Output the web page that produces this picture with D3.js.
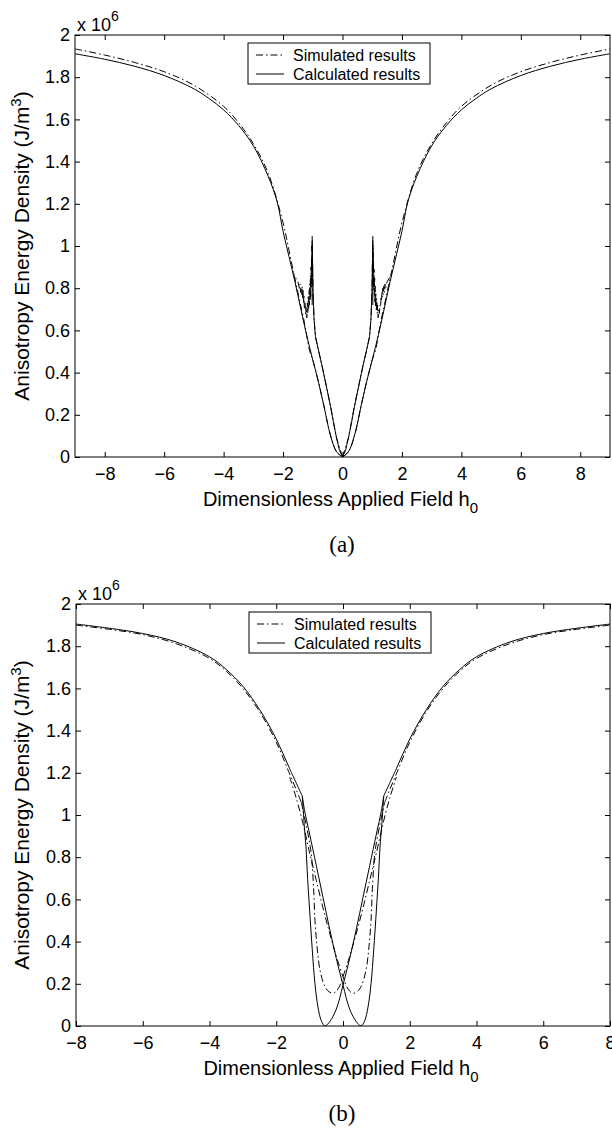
<!DOCTYPE html>
<html><head><meta charset="utf-8">
<script src="https://cdn.jsdelivr.net/npm/d3@7"></script>
<style>html,body{margin:0;padding:0;background:#fff;} svg{display:block;}</style>
</head><body>
<svg id="chart" width="612" height="1131"></svg>
<script>
// ---------- DATA (energy values in units of 10^6 J/m^3) ----------
const xTicksA = [-8, -6, -4, -2, 0, 2, 4, 6, 8];
const xTicksB = [-8, -6, -4, -2, 0, 2, 4, 6, 8];
const yTicks = [0, 0.2, 0.4, 0.6, 0.8, 1, 1.2, 1.4, 1.6, 1.8, 2];
const legendLabels = ["Simulated results", "Calculated results"];

// Panel (a) - calculated, outer (stable) branches
const aCalcOuterLx = [-9, -8, -7, -6, -5, -4.5, -4, -3.5, -3, -2.5, -2.2, -2, -1.8, -1.6, -1.4, -1.21, -1, -0.8, -0.63, -0.4, -0.2, 0];
const aCalcOuterLy = [1.911, 1.885, 1.852, 1.808, 1.745, 1.70, 1.645, 1.572, 1.475, 1.33, 1.21, 1.07, 0.95, 0.83, 0.70, 0.58, 0.46, 0.35, 0.245, 0.10, 0.025, 0];
const aCalcOuterRx = [0, 0.2, 0.4, 0.63, 0.8, 1, 1.21, 1.4, 1.6, 1.8, 2, 2.2, 2.5, 3, 3.5, 4, 4.5, 5, 6, 7, 8, 9];
const aCalcOuterRy = [0, 0.025, 0.10, 0.245, 0.35, 0.46, 0.58, 0.70, 0.83, 0.95, 1.07, 1.21, 1.33, 1.475, 1.572, 1.645, 1.70, 1.745, 1.808, 1.852, 1.885, 1.911];
// Panel (a) - calculated, metastable branches up to switching (with jump)
const aCalcSteepLx = [0, -0.1, -0.2, -0.3, -0.4, -0.55, -0.7, -0.8, -0.91, -0.96, -0.99, -1.02, -1.02];
const aCalcSteepLy = [0, 0.03, 0.09, 0.16, 0.238, 0.34, 0.44, 0.50, 0.57, 0.66, 0.78, 1.02, 0.72];
const aCalcSteepRx = [0, 0.1, 0.2, 0.3, 0.4, 0.55, 0.7, 0.8, 0.91, 0.96, 0.99, 1.02, 1.02];
const aCalcSteepRy = [0, 0.03, 0.09, 0.16, 0.238, 0.34, 0.44, 0.50, 0.57, 0.66, 0.78, 1.02, 0.72];

// Panel (a) - simulated, outer branches
const aSimOuterLx = [-9, -8, -7, -6, -5, -4, -3.5, -3, -2.5, -2, -1.8, -1.64, -1.5, -1.41, -1.3, -1.21, -1.1, -1, -0.8, -0.63, -0.4, -0.2, 0];
const aSimOuterLy = [1.934, 1.905, 1.870, 1.826, 1.762, 1.662, 1.585, 1.485, 1.345, 1.11, 0.98, 0.87, 0.78, 0.72, 0.65, 0.58, 0.50, 0.46, 0.35, 0.245, 0.10, 0.025, 0];
const aSimOuterRx = [0, 0.2, 0.4, 0.63, 0.8, 1, 1.1, 1.21, 1.3, 1.41, 1.5, 1.64, 1.8, 2, 2.5, 3, 3.5, 4, 5, 6, 7, 8, 9];
const aSimOuterRy = [0, 0.025, 0.10, 0.245, 0.35, 0.46, 0.50, 0.58, 0.65, 0.72, 0.78, 0.87, 0.98, 1.11, 1.345, 1.485, 1.585, 1.662, 1.762, 1.826, 1.870, 1.905, 1.934];
// Panel (a) - simulated, metastable branch, switching spike and noisy relaxation
const aSimSteepLx = [0, -0.2, -0.4, -0.55, -0.7, -0.8, -0.91, -0.96, -0.99, -1.01, -1.02, -1.025, -1.03, -1.035, -1.04, -1.05, -1.06, -1.07, -1.08, -1.09, -1.1, -1.11, -1.12, -1.14, -1.15, -1.17, -1.18, -1.2, -1.22, -1.24, -1.26, -1.28, -1.3, -1.31, -1.33, -1.34, -1.36, -1.37, -1.39, -1.41, -1.43, -1.45, -1.5, -1.58, -1.64];
const aSimSteepLy = [0, 0.09, 0.24, 0.34, 0.44, 0.50, 0.57, 0.66, 0.78, 0.95, 1.045, 0.86, 1.0, 0.82, 0.95, 0.80, 0.90, 0.76, 0.86, 0.74, 0.82, 0.72, 0.79, 0.70, 0.76, 0.68, 0.73, 0.66, 0.71, 0.67, 0.73, 0.70, 0.77, 0.73, 0.79, 0.75, 0.81, 0.77, 0.80, 0.78, 0.82, 0.80, 0.83, 0.85, 0.87];
const aSimSteepRx = [0, 0.2, 0.4, 0.55, 0.7, 0.8, 0.91, 0.96, 0.99, 1.01, 1.02, 1.025, 1.03, 1.035, 1.04, 1.05, 1.06, 1.07, 1.08, 1.09, 1.1, 1.11, 1.12, 1.14, 1.15, 1.17, 1.18, 1.2, 1.22, 1.24, 1.26, 1.28, 1.3, 1.31, 1.33, 1.34, 1.36, 1.37, 1.39, 1.41, 1.43, 1.45, 1.5, 1.58, 1.64];
const aSimSteepRy = [0, 0.09, 0.24, 0.34, 0.44, 0.50, 0.57, 0.66, 0.78, 0.95, 1.045, 0.87, 0.99, 0.83, 0.94, 0.79, 0.89, 0.77, 0.85, 0.73, 0.81, 0.71, 0.78, 0.69, 0.75, 0.68, 0.72, 0.66, 0.70, 0.68, 0.72, 0.71, 0.76, 0.74, 0.78, 0.76, 0.80, 0.77, 0.81, 0.78, 0.82, 0.80, 0.83, 0.85, 0.87];

// Panel (b) - calculated
const bCalcOuterLx = [-8, -7, -6, -5, -4, -3.5, -3, -2.5, -2, -1.6, -1.22];
const bCalcOuterLy = [1.905, 1.885, 1.86, 1.82, 1.75, 1.69, 1.61, 1.50, 1.36, 1.22, 1.09];
const bCalcOuterRx = [1.22, 1.6, 2, 2.5, 3, 3.5, 4, 5, 6, 7, 8];
const bCalcOuterRy = [1.09, 1.22, 1.36, 1.50, 1.61, 1.69, 1.75, 1.82, 1.86, 1.885, 1.905];
const bCalcU1x = [-1.22, -1.16, -1.11, -1.06, -1.0, -0.92, -0.84, -0.75, -0.65, -0.54, -0.4, -0.2, 0, 0.2, 0.4, 0.6, 0.8, 1.0, 1.15, 1.22];
const bCalcU1y = [1.09, 0.95, 0.85, 0.70, 0.55, 0.36, 0.20, 0.09, 0.025, 0, 0.02, 0.08, 0.194, 0.32, 0.46, 0.61, 0.76, 0.91, 1.02, 1.09];
const bCalcU2x = [-1.22, -1.15, -1.0, -0.8, -0.6, -0.4, -0.2, 0, 0.2, 0.4, 0.54, 0.65, 0.75, 0.84, 0.92, 1.0, 1.06, 1.11, 1.16, 1.22];
const bCalcU2y = [1.09, 1.02, 0.91, 0.76, 0.61, 0.46, 0.32, 0.194, 0.08, 0.02, 0, 0.025, 0.09, 0.20, 0.36, 0.55, 0.70, 0.85, 0.95, 1.09];

// Panel (b) - simulated
const bSimOuterLx = [-8, -7, -6, -5, -4, -3.5, -3, -2.5, -2, -1.6, -1.4, -1.25];
const bSimOuterLy = [1.90, 1.88, 1.855, 1.812, 1.742, 1.682, 1.60, 1.49, 1.345, 1.195, 1.12, 1.06];
const bSimOuterRx = [1.25, 1.4, 1.6, 2, 2.5, 3, 3.5, 4, 5, 6, 7, 8];
const bSimOuterRy = [1.06, 1.12, 1.195, 1.345, 1.49, 1.60, 1.682, 1.742, 1.812, 1.855, 1.88, 1.90];
const bSimU1x = [-1.25, -1.1, -0.98, -0.94, -0.88, -0.84, -0.78, -0.69, -0.55, -0.42, -0.29, -0.2, -0.1, 0, 0.2, 0.4, 0.6, 0.8, 1.0, 1.2, 1.4, 1.6];
const bSimU1y = [1.06, 0.95, 0.85, 0.80, 0.65, 0.50, 0.38, 0.265, 0.19, 0.162, 0.155, 0.165, 0.19, 0.234, 0.33, 0.44, 0.56, 0.69, 0.82, 0.96, 1.08, 1.18];
const bSimU2x = [-1.6, -1.4, -1.2, -1.0, -0.8, -0.6, -0.4, -0.2, 0, 0.1, 0.2, 0.29, 0.42, 0.55, 0.69, 0.78, 0.84, 0.88, 0.94, 0.98, 1.1, 1.25];
const bSimU2y = [1.18, 1.08, 0.96, 0.82, 0.69, 0.56, 0.44, 0.33, 0.234, 0.19, 0.165, 0.155, 0.162, 0.19, 0.265, 0.38, 0.50, 0.65, 0.80, 0.85, 0.95, 1.06];

// ---------- DRAWING ----------
const svg = d3.select("#chart");
const FONT = "'Liberation Sans', Arial, Helvetica, sans-serif";
const SIM_DASH = "7,3,1.5,3";

const panels = [
  { top: 35, bottom: 457, left: 75, right: 610, xDomain: [-9, 9], xTicks: xTicksA, tag: "(a)",
    series: [
      [aCalcOuterLx, aCalcOuterLy, "calc", "smooth"], [aCalcOuterRx, aCalcOuterRy, "calc", "smooth"],
      [aCalcSteepLx, aCalcSteepLy, "calc", "linear"], [aCalcSteepRx, aCalcSteepRy, "calc", "linear"],
      [aSimOuterLx, aSimOuterLy, "sim", "smooth"], [aSimOuterRx, aSimOuterRy, "sim", "smooth"],
      [aSimSteepLx, aSimSteepLy, "sim", "linear"], [aSimSteepRx, aSimSteepRy, "sim", "linear"]
    ] },
  { top: 604, bottom: 1026, left: 76, right: 610, xDomain: [-8, 8], xTicks: xTicksB, tag: "(b)",
    series: [
      [bCalcOuterLx, bCalcOuterLy, "calc", "smooth"], [bCalcOuterRx, bCalcOuterRy, "calc", "smooth"],
      [bCalcU1x, bCalcU1y, "calc", "smooth"], [bCalcU2x, bCalcU2y, "calc", "smooth"],
      [bSimOuterLx, bSimOuterLy, "sim", "smooth"], [bSimOuterRx, bSimOuterRy, "sim", "smooth"],
      [bSimU1x, bSimU1y, "sim", "smooth"], [bSimU2x, bSimU2y, "sim", "smooth"]
    ] }
];

panels.forEach((p, i) => {
  const x = d3.scaleLinear().domain(p.xDomain).range([p.left, p.right]);
  const y = d3.scaleLinear().domain([0, 2]).range([p.bottom, p.top]);
  const w = p.right - p.left, h = p.bottom - p.top;
  const g = svg.append("g");

  const clipId = "clip" + i;
  svg.append("clipPath").attr("id", clipId).append("rect")
    .attr("x", p.left).attr("y", p.top).attr("width", w).attr("height", h);

  // axes with inward ticks
  const fmtY = d3.format("~g");
  const axB = g.append("g").attr("transform", `translate(0,${p.bottom})`)
    .call(d3.axisBottom(x).tickValues(p.xTicks).tickSizeInner(-5).tickSizeOuter(0).tickPadding(10));
  const axL = g.append("g").attr("transform", `translate(${p.left},0)`)
    .call(d3.axisLeft(y).tickValues(yTicks).tickFormat(fmtY).tickSizeInner(-5).tickSizeOuter(0).tickPadding(5));
  const axT = g.append("g").attr("transform", `translate(0,${p.top})`)
    .call(d3.axisTop(x).tickValues(p.xTicks).tickFormat("").tickSizeInner(-5).tickSizeOuter(0));
  const axR = g.append("g").attr("transform", `translate(${p.right},0)`)
    .call(d3.axisRight(y).tickValues(yTicks).tickFormat("").tickSizeInner(-5).tickSizeOuter(0));
  [axB, axL, axT, axR].forEach(a => {
    a.selectAll("path.domain").remove();
    a.selectAll("line").attr("stroke", "#000").attr("stroke-width", 1);
    a.selectAll("text").attr("font-family", FONT).attr("font-size", 18).attr("fill", "#000");
  });

  // box
  g.append("rect").attr("x", p.left).attr("y", p.top).attr("width", w).attr("height", h)
    .attr("fill", "none").attr("stroke", "#000").attr("stroke-width", 1);

  // curves
  const cg = g.append("g").attr("clip-path", `url(#${clipId})`);
  p.series.forEach(([xs, ys, kind, interp]) => {
    const line = d3.line().x(d => x(d[0])).y(d => y(d[1]))
      .curve(interp === "smooth" ? d3.curveCatmullRom.alpha(0.5) : d3.curveLinear);
    cg.append("path").datum(d3.zip(xs, ys)).attr("d", line)
      .attr("fill", "none").attr("stroke", "#000").attr("stroke-width", 1)
      .attr("stroke-dasharray", kind === "sim" ? SIM_DASH : null);
  });

  // exponent label
  const ex = g.append("text").attr("x", p.left + 2).attr("y", p.top - 4)
    .attr("font-family", FONT).attr("font-size", 18).attr("fill", "#000");
  ex.append("tspan").text("x 10");
  ex.append("tspan").attr("dy", -10).attr("font-size", 14).text("6");

  // legend
  const lx = p.left + 173, ly = p.top + 8;
  g.append("rect").attr("x", lx).attr("y", ly).attr("width", 182).attr("height", 41)
    .attr("fill", "#fff").attr("stroke", "#000").attr("stroke-width", 1);
  legendLabels.forEach((lab, k) => {
    const ry = ly + 12 + k * 19;
    g.append("line").attr("x1", lx + 8).attr("x2", lx + 36).attr("y1", ry).attr("y2", ry)
      .attr("stroke", "#000").attr("stroke-width", 1)
      .attr("stroke-dasharray", k === 0 ? SIM_DASH : null);
    g.append("text").attr("x", lx + 45).attr("y", ry + 6)
      .attr("font-family", FONT).attr("font-size", 16).attr("fill", "#000").text(lab);
  });

  // x label
  const xl = g.append("text").attr("x", (p.left + p.right) / 2 - 2).attr("y", p.bottom + 49)
    .attr("text-anchor", "middle").attr("font-family", FONT).attr("font-size", 20).attr("fill", "#000");
  xl.append("tspan").text("Dimensionless Applied Field h");
  xl.append("tspan").attr("dy", 7).attr("font-size", 15).text("0");

  // y label
  const yl = g.append("text")
    .attr("transform", `translate(29,${(p.top + p.bottom) / 2}) rotate(-90)`)
    .attr("text-anchor", "middle").attr("font-family", FONT).attr("font-size", 21).attr("fill", "#000");
  yl.append("tspan").text("Anisotropy Energy Density (J/m");
  yl.append("tspan").attr("dy", -8).attr("font-size", 15).text("3");
  yl.append("tspan").attr("dy", 8).text(")");

  // panel tag
  g.append("text").attr("x", 342).attr("y", p.bottom + 95)
    .attr("text-anchor", "middle").attr("font-family", "'Liberation Serif', 'Times New Roman', serif")
    .attr("font-size", 23).attr("fill", "#000").text(p.tag);
});
</script>
</body></html>
